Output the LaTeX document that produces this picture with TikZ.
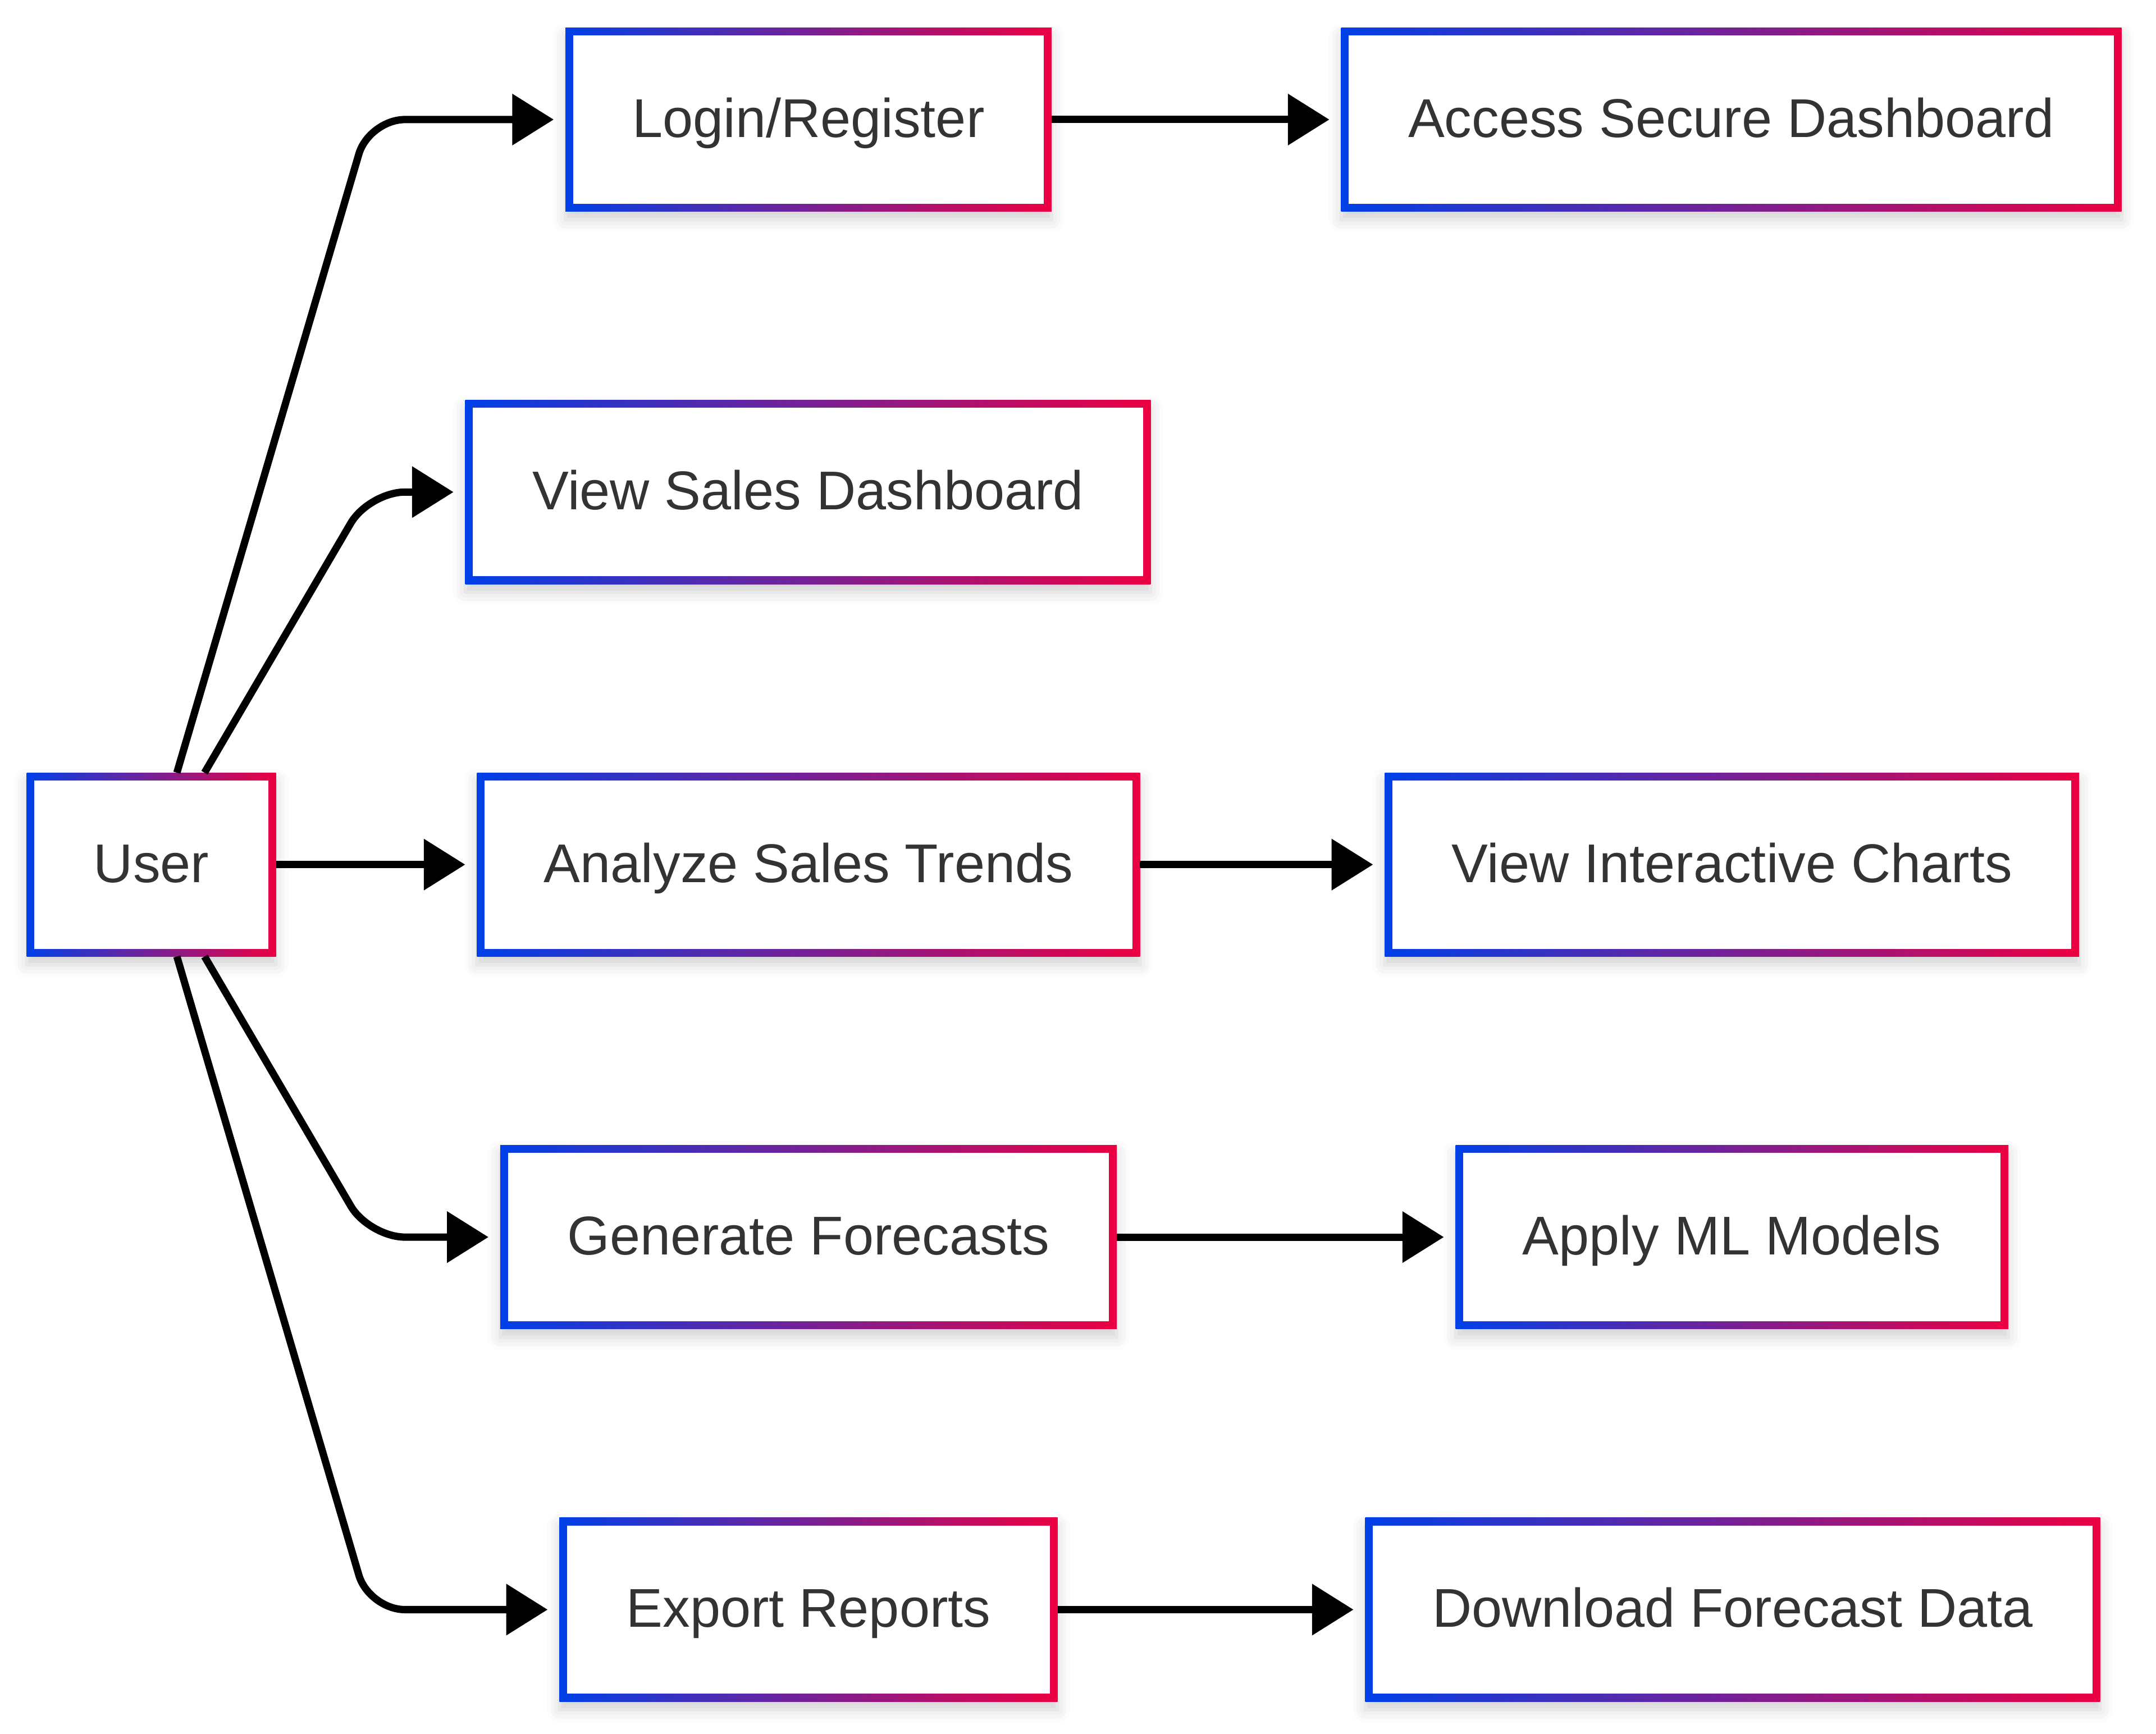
\documentclass[tikz,border=0pt]{standalone}
\usepackage{fontspec}
\setmainfont{Liberation Sans}
\usetikzlibrary{arrows.meta,shadows.blur}
\definecolor{boxblue}{RGB}{0,64,232}
\definecolor{boxred}{RGB}{236,0,66}
\definecolor{boxtext}{RGB}{51,51,51}

\begin{document}
\begin{tikzpicture}[x=1pt,y=-1pt,
  box/.style={rectangle, fill=white, inner xsep=48.5pt, inner ysep=0pt, outer sep=0pt,
    minimum height=133pt, text height=25.5pt, text depth=0pt, text=boxtext,
    font=\fontsize{39.5}{47}\selectfont,
    blur shadow={shadow xshift=0pt, shadow yshift=-6pt, shadow blur radius=9pt, shadow opacity=18},
    path picture={
      \shade[left color=boxblue, right color=boxred] (path picture bounding box.south west) rectangle (path picture bounding box.north east);
      \fill[white] ([shift={(5.6pt,5.6pt)}]path picture bounding box.south west) rectangle ([shift={(-5.6pt,-5.6pt)}]path picture bounding box.north east);
    }},
  flow/.style={draw=black, line width=5.3pt, shorten >=8.5pt, -{Triangle[length=30pt,width=36pt]}},
  turnflow/.style={flow, rounded corners=26pt}]
\useasboundingbox (0,0) rectangle (1560,1254.1);

% Boxes
\node[box] (user) at (109.5,625.5) {User};
\node[box] (login) at (585,86.5) {Login/Register};
\node[box] (access) at (1252.7,86.5) {Access Secure Dashboard};
\node[box] (viewsales) at (584.6,356) {View Sales Dashboard};
\node[box] (analyze) at (585,625.5) {Analyze Sales Trends};
\node[box] (charts) at (1253.2,625.5) {View Interactive Charts};
\node[box] (forecast) at (585,895) {Generate Forecasts};
\node[box] (mlmodels) at (1253.2,895) {Apply ML Models};
\node[box] (export) at (585,1164.5) {Export Reports};
\node[box] (download) at (1253.7,1164.5) {Download Forecast Data};

% column where the user lines turn
\coordinate (elbow) at (267,0);

% User to the first column
\draw[turnflow] ([xshift=18.5pt]user.north) -- (login.west -| elbow) -- (login.west);
\draw[turnflow] ([xshift=38.5pt]user.north) -- (viewsales.west -| elbow) -- (viewsales.west);
\draw[flow] (user.east) -- (analyze.west);
\draw[turnflow] ([xshift=38.5pt]user.south) -- (forecast.west -| elbow) -- (forecast.west);
\draw[turnflow] ([xshift=18.5pt]user.south) -- (export.west -| elbow) -- (export.west);

% first column to the second
\draw[flow] (login.east) -- (access.west);
\draw[flow] (analyze.east) -- (charts.west);
\draw[flow] (forecast.east) -- (mlmodels.west);
\draw[flow] (export.east) -- (download.west);
\end{tikzpicture}
\end{document}
